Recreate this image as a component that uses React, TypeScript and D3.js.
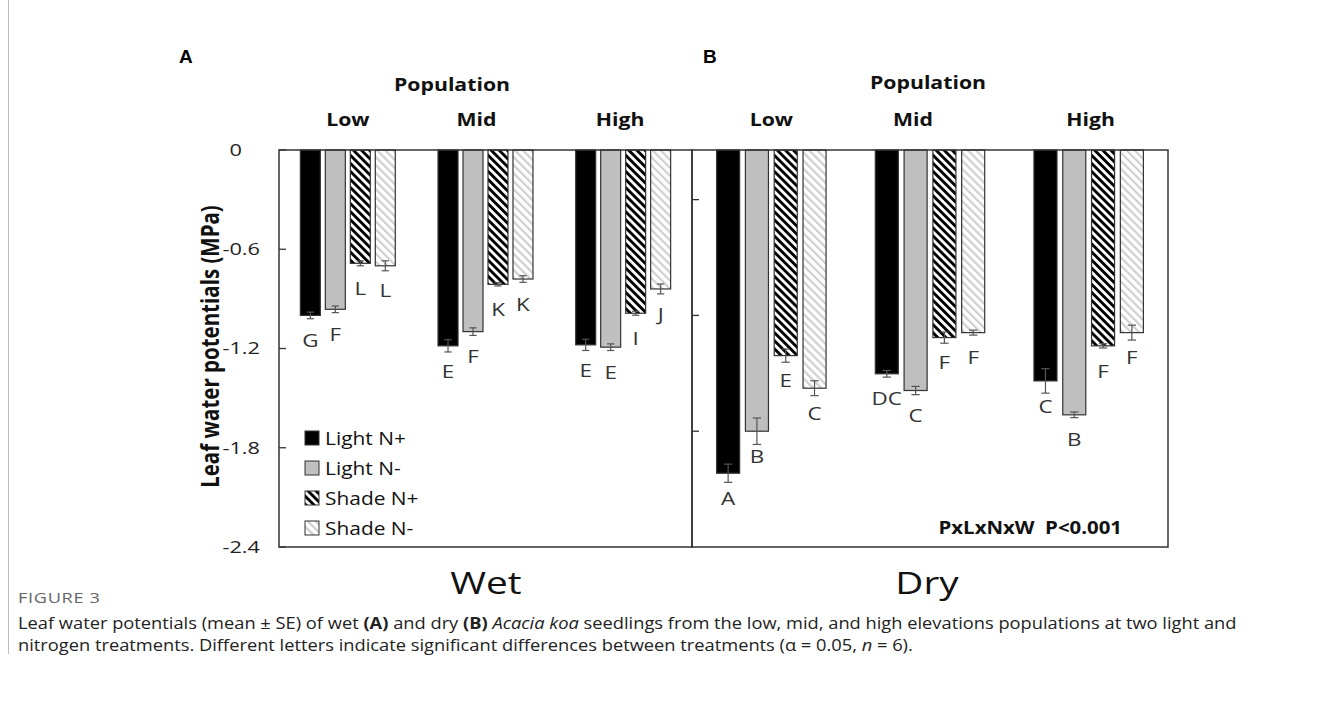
import React from "react";
import * as d3 from "d3";

const populations = ["Low", "Mid", "High"];
const treatments = ["Light N+", "Light N-", "Shade N+", "Shade N-"];

// wet (panel A), per population: Light N+, Light N-, Shade N+, Shade N-
const wetMeans = [
  [-1.0, -0.963, -0.685, -0.7],
  [-1.184, -1.098, -0.812, -0.78],
  [-1.178, -1.192, -0.987, -0.84],
];
const wetSE = [
  [0.02, 0.02, 0.015, 0.03],
  [0.037, 0.023, 0.01, 0.02],
  [0.034, 0.02, 0.012, 0.03],
];
const wetLetters = [
  ["G", "F", "L", "L"],
  ["E", "F", "K", "K"],
  ["E", "E", "I", "J"],
];

// dry (panel B)
const dryMeans = [
  [-1.954, -1.7, -1.243, -1.44],
  [-1.353, -1.454, -1.134, -1.104],
  [-1.396, -1.601, -1.184, -1.104],
];
const drySE = [
  [0.055, 0.08, 0.04, 0.045],
  [0.02, 0.025, 0.034, 0.015],
  [0.074, 0.017, 0.013, 0.045],
];
const dryLetters = [
  ["A", "B", "E", "C"],
  ["DC", "C", "F", "F"],
  ["C", "B", "F", "F"],
];

const yTicks = [0, -0.6, -1.2, -1.8, -2.4];
const dryTicks = [-0.3, -1.0, -1.7];

const FONT = "'Open Sans', sans-serif";
const fills = ["#000", "#bfbfbf", "url(#hatchDark)", "url(#hatchLight)"];

const top = 150;
const bottom = 547;
const y = d3.scaleLinear().domain([0, -2.4]).range([top, bottom]);

// the source figure's lettering is wide, so text is stretched a little
function T({ x, y, sx = 1.18, sy = 1, rot = 0, children, ...rest }: any) {
  return (
    <text transform={`translate(${x},${y}) rotate(${rot}) scale(${sx},${sy})`} fontFamily={FONT} {...rest}>
      {children}
    </text>
  );
}

function Panel({ x0, x1, means, se, letters }: any) {
  const xg = d3.scaleBand().domain(populations).range([x0, x1]).paddingInner(0.274).paddingOuter(0.137);
  const xb = d3.scaleBand().domain(treatments).range([0, xg.bandwidth()]).paddingInner(0.2).paddingOuter(0.1);
  const w = xb.bandwidth();
  return (
    <g>
      {populations.map((p, i) => (
        <g key={p} transform={`translate(${xg(p)},0)`}>
          {treatments.map((t, j) => {
            const m = means[i][j];
            const s = se[i][j];
            const bx = xb(t)!;
            const cx = bx + w / 2;
            return (
              <g key={t}>
                <rect x={bx} y={y(0)} width={w} height={y(m) - y(0)} fill={fills[j]}
                  stroke="#333" strokeWidth={1.2} />
                <g stroke="#555" strokeWidth={1.2}>
                  <line x1={cx} x2={cx} y1={y(m + s)} y2={y(m - s)} />
                  <line x1={cx - w * 0.18} x2={cx + w * 0.18} y1={y(m + s)} y2={y(m + s)} />
                  <line x1={cx - w * 0.18} x2={cx + w * 0.18} y1={y(m - s)} y2={y(m - s)} />
                </g>
                <T x={cx} y={y(m) + 25} dy="0.35em" textAnchor="middle" fontSize={19}
                  fill="#333">{letters[i][j]}</T>
              </g>
            );
          })}
        </g>
      ))}
    </g>
  );
}

export default function App() {
  const aL = 279, aR = 692, bR = 1168;
  const xgA = d3.scaleBand().domain(populations).range([aL, aR]).paddingInner(0.274).paddingOuter(0.137);
  const xgB = d3.scaleBand().domain(populations).range([aR, bR]).paddingInner(0.274).paddingOuter(0.137);
  const shiftA = [0, -9, -3];
  const shiftB = [0, -17, 2];
  return (
    <div style={{ position: "absolute", left: 0, top: 0 }}>
      <svg width={1322} height={704} style={{ display: "block", background: "#fff" }}>
        <defs>
          <pattern id="hatchDark" patternUnits="userSpaceOnUse" width={5.7} height={5.7}
            patternTransform="rotate(-45)">
            <rect width={5.7} height={5.7} fill="#fff" />
            <rect width={2.9} height={5.7} fill="#000" />
          </pattern>
          <pattern id="hatchLight" patternUnits="userSpaceOnUse" width={5.7} height={5.7}
            patternTransform="rotate(-45)">
            <rect width={5.7} height={5.7} fill="#fff" />
            <rect width={2.2} height={5.7} fill="#cfcfcf" />
          </pattern>
        </defs>

        <line x1={8.5} x2={8.5} y1={0} y2={654} stroke="#bbb" strokeWidth={1} />

        <text x={179} y={63} fontSize={19} fontWeight="bold" fontFamily="'Liberation Sans', Arial">A</text>
        <text x={703} y={63} fontSize={19} fontWeight="bold" fontFamily="'Liberation Sans', Arial">B</text>

        <g fontWeight="bold" fontSize={18} textAnchor="middle" fill="#111">
          <T x={452} y={91}>Population</T>
          <T x={928} y={89}>Population</T>
          {populations.map((p, i) => (
            <T key={"a" + p} x={xgA(p)! + xgA.bandwidth() / 2 + shiftA[i]} y={126}>{p}</T>
          ))}
          {populations.map((p, i) => (
            <T key={"b" + p} x={xgB(p)! + xgB.bandwidth() / 2 + shiftB[i]} y={126}>{p}</T>
          ))}
        </g>

        <Panel x0={aL} x1={aR} means={wetMeans} se={wetSE} letters={wetLetters} />
        <Panel x0={aR} x1={bR} means={dryMeans} se={drySE} letters={dryLetters} />

        {/* frames */}
        <rect x={aL} y={top} width={aR - aL} height={bottom - top} fill="none" stroke="#333" strokeWidth={1.5} />
        <rect x={aR} y={top} width={bR - aR} height={bottom - top} fill="none" stroke="#333" strokeWidth={1.5} />

        {/* y axis A */}
        {yTicks.map((t) => (
          <g key={t}>
            <line x1={aL} x2={aL + 7} y1={y(t)} y2={y(t)} stroke="#333" strokeWidth={1.3} />
            <T x={t === 0 ? 242 : 260} y={y(t)} sx={1.28} dy="0.35em" textAnchor="end" fontSize={17}
              fill="#222">{t === 0 ? "0" : t.toFixed(1)}</T>
          </g>
        ))}
        {dryTicks.map((t) => (
          <line key={t} x1={aR} x2={aR + 7} y1={y(t)} y2={y(t)} stroke="#333" strokeWidth={1.3} />
        ))}

        <T x={219} y={(top + bottom) / 2 - 2} rot={-90} sx={1} sy={1.2} textAnchor="middle"
          fontSize={20.5} fontWeight="bold" fill="#111">Leaf water potentials (MPa)</T>

        {/* legend */}
        {treatments.map((t, j) => (
          <g key={t} transform={`translate(305,${438 + j * 30})`}>
            <rect x={0} y={-7} width={14} height={14} fill={fills[j]} stroke="#333" strokeWidth={1} />
            <T x={20} y={0} sx={1.1} dy="0.35em" fontSize={19} fill="#111">{t}</T>
          </g>
        ))}

        <T x={1122} y={534} sx={1.2} textAnchor="end" fontSize={17} fontWeight="bold"
          fill="#111" style={{ whiteSpace: "pre" }}>{"PxLxNxW  P<0.001"}</T>

        <T x={486} y={594} sx={1.25} textAnchor="middle" fontSize={31} fill="#111">Wet</T>
        <T x={927} y={594} sx={1.25} textAnchor="middle" fontSize={31} fill="#111">Dry</T>

        {/* caption */}
        <T x={18} y={603} sx={1.3} fontSize={14} fill="#666" letterSpacing={0.5}>FIGURE 3</T>
        <T x={18} y={629} sx={1.18} fontSize={15.5} fill="#222">
          Leaf water potentials (mean ± SE) of wet <tspan fontWeight="bold">(A)</tspan> and dry{" "}
          <tspan fontWeight="bold">(B)</tspan> <tspan fontStyle="italic">Acacia koa</tspan> seedlings from the low, mid, and high elevations populations at two light and
        </T>
        <T x={18} y={651} sx={1.18} fontSize={15.5} fill="#222">
          nitrogen treatments. Different letters indicate significant differences between treatments (α = 0.05,{" "}
          <tspan fontStyle="italic">n</tspan> = 6).
        </T>
      </svg>
    </div>
  );
}
